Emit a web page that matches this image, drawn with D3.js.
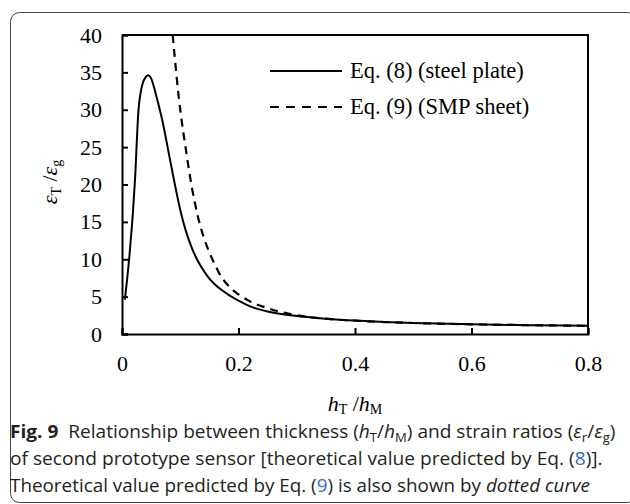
<!DOCTYPE html>
<html>
<head>
<meta charset="utf-8">
<script src="https://cdn.jsdelivr.net/npm/d3@7"></script>
<style>
    html, body { margin: 0; padding: 0; background: #fff; }
    svg { display: block; }
</style>
</head>
<body>
<div id="chart"></div>
<script>
'use strict';

// Eq. (8) - steel plate (solid curve)
var steelX = [0.005, 0.0223, 0.028, 0.034, 0.04, 0.045, 0.05, 0.055, 0.06, 0.07, 0.08, 0.09, 0.1, 0.11, 0.12,
    0.13, 0.14, 0.15, 0.16, 0.17, 0.18, 0.19, 0.2, 0.22, 0.25, 0.3, 0.35, 0.4, 0.45, 0.5, 0.6, 0.7, 0.8];
var steelY = [4.6, 20.6, 29.6, 33.1, 34.3, 34.6, 34.2, 33.0, 31.5, 28.3, 24.3, 20.3, 16.6, 13.7, 11.5,
    9.8, 8.5, 7.4, 6.6, 5.95, 5.4, 4.9, 4.45, 3.7, 3.0, 2.4, 2.05, 1.8, 1.62, 1.48, 1.3, 1.18, 1.1];

// Eq. (9) - SMP sheet (dashed curve)
var smpX = [0.087, 0.09, 0.0967, 0.1, 0.11, 0.1167, 0.12, 0.13, 0.14, 0.15, 0.16, 0.17, 0.18, 0.19, 0.2,
    0.22, 0.25, 0.3, 0.35, 0.4, 0.45, 0.5, 0.6, 0.7, 0.8];
var smpY = [40, 37.5, 32.2, 30, 24.5, 21.1, 19.6, 15.8, 13.0, 10.9, 9.2, 7.7, 6.7, 5.9, 5.3,
    4.36, 3.45, 2.5, 2.05, 1.78, 1.6, 1.47, 1.3, 1.18, 1.1];

var xTicks = [0, 0.2, 0.4, 0.6, 0.8];
var yTicks = [0, 5, 10, 15, 20, 25, 30, 35, 40];
var legendLabels = ['Eq. (8) (steel plate)', 'Eq. (9) (SMP sheet)'];

var width = 630,
    height = 504,
    margin = {top: 35, right: 42, bottom: 170, left: 122},
    serif = '"Liberation Serif", "Times New Roman", serif',
    sans = '"Open Sans", "Noto Sans", sans-serif',
    ink = '#231f20',
    blue = '#2f6ec0';

var svg = d3.select('#chart').append('svg')
    .attr('width', width)
    .attr('height', height);

// Rounded figure frame (right side runs off the page).
svg.append('rect')
    .attr('x', 10.5).attr('y', 12.5)
    .attr('width', 626).attr('height', 490)
    .attr('rx', 9)
    .attr('fill', 'none')
    .attr('stroke', '#444')
    .attr('stroke-width', 1);

var x = d3.scaleLinear()
    .domain([0, 0.8])
    .range([margin.left, width - margin.right]);

var y = d3.scaleLinear()
    .domain([0, 40])
    .range([height - margin.bottom, margin.top]);

var g = svg.append('g');

// Axes with inward ticks.
var xAxis = g.append('g')
    .attr('transform', 'translate(0,' + y(0) + ')')
    .call(d3.axisBottom(x).tickValues(xTicks).tickSize(-6).tickPadding(21).tickFormat(function (d) {
        return d === 0 ? '0' : d3.format('.1f')(d);
    }));

var yAxis = g.append('g')
    .attr('transform', 'translate(' + x(0) + ',0)')
    .call(d3.axisLeft(y).tickValues(yTicks).tickSize(-6).tickPadding(20));

[xAxis, yAxis].forEach(function (a) {
    a.select('.domain').attr('stroke', '#000').attr('stroke-width', 2);
    a.selectAll('.tick line').attr('stroke', '#000').attr('stroke-width', 2);
    a.selectAll('.tick text')
        .attr('fill', '#000')
        .style('font-family', serif)
        .style('font-size', '22px');
});

// Top and right border of the plot box.
g.append('path')
    .attr('d', 'M' + x(0) + ',' + y(40) + 'H' + x(0.8) + 'V' + y(0))
    .attr('fill', 'none')
    .attr('stroke', '#000')
    .attr('stroke-width', 2);

var line = d3.line()
    .x(function (d) { return x(d[0]); })
    .y(function (d) { return y(d[1]); })
    .curve(d3.curveMonotoneX);

g.append('path')
    .datum(d3.zip(steelX, steelY))
    .attr('d', line)
    .attr('fill', 'none')
    .attr('stroke', '#000')
    .attr('stroke-width', 2);

g.append('path')
    .datum(d3.zip(smpX, smpY))
    .attr('d', line)
    .attr('fill', 'none')
    .attr('stroke', '#000')
    .attr('stroke-width', 2.2)
    .attr('stroke-dasharray', '8,6');

// Legend.
var legend = g.append('g').attr('transform', 'translate(270,71)');

legendLabels.forEach(function (label, i) {
    var row = legend.append('g').attr('transform', 'translate(0,' + (i * 36) + ')');

    row.append('line')
        .attr('x1', 0).attr('x2', 72)
        .attr('stroke', '#000')
        .attr('stroke-width', 2)
        .attr('stroke-dasharray', i === 1 ? '9,7' : null);

    row.append('text')
        .attr('x', 80).attr('y', 7)
        .style('font-family', serif)
        .style('font-size', '22.5px')
        .text(label);
});

// Axis titles.
var xTitle = svg.append('text')
    .attr('x', 355).attr('y', 411)
    .attr('text-anchor', 'middle')
    .style('font-family', serif)
    .style('font-size', '22px');
xTitle.append('tspan').style('font-style', 'italic').text('h');
xTitle.append('tspan').attr('dy', 3).style('font-size', '14px').text('T');
xTitle.append('tspan').attr('dy', -3).text(' /');
xTitle.append('tspan').style('font-style', 'italic').text('h');
xTitle.append('tspan').attr('dy', 3).style('font-size', '14px').text('M');

var yTitle = svg.append('text')
    .attr('transform', 'translate(57,182) rotate(-90)')
    .attr('text-anchor', 'middle')
    .style('font-family', serif)
    .style('font-size', '22px');
yTitle.append('tspan').style('font-style', 'italic').text('ε');
yTitle.append('tspan').attr('dy', 4).style('font-size', '14px').text('T');
yTitle.append('tspan').attr('dy', -4).text(' /');
yTitle.append('tspan').style('font-style', 'italic').text('ε');
yTitle.append('tspan').attr('dy', 4).style('font-size', '14px').text('g');

// Caption, each line squeezed to the width of the original.
var captionLines = [
    {y: 438, right: 616, parts: [
        {t: 'Fig. 9', w: 'bold'}, {t: '  Relationship between thickness ('}, {t: 'h', i: 1}, {t: 'T', sub: 1},
        {t: '/'}, {t: 'h', i: 1}, {t: 'M', sub: 1}, {t: ') and strain ratios ('}, {t: 'ε', i: 1}, {t: 'r', sub: 1},
        {t: '/'}, {t: 'ε', i: 1}, {t: 'g', sub: 1}, {t: ')'}
    ]},
    {y: 465, right: 603, parts: [
        {t: 'of second prototype sensor [theoretical value predicted by Eq. ('}, {t: '8', c: blue}, {t: ')].'}
    ]},
    {y: 492, right: 590, parts: [
        {t: 'Theoretical value predicted by Eq. ('}, {t: '9', c: blue}, {t: ') is also shown by '},
        {t: 'dotted curve', i: 1}
    ]}
];

captionLines.forEach(function (ln) {
    var holder = svg.append('g');
    var text = holder.append('text')
        .attr('x', 0).attr('y', 0)
        .attr('fill', ink)
        .style('font-family', sans)
        .style('font-size', '17.5px')
        .attr('xml:space', 'preserve');
    var shift = 0;

    ln.parts.forEach(function (p) {
        var dy = 0;
        if (p.sub && shift === 0) { dy = 4; shift = 4; }
        if (!p.sub && shift !== 0) { dy = -shift; shift = 0; }

        var ts = text.append('tspan').text(p.t);
        if (dy) { ts.attr('dy', dy); }
        if (p.sub) { ts.style('font-size', '12px'); }
        if (p.w) { ts.style('font-weight', p.w); }
        if (p.i) { ts.style('font-style', 'italic'); }
        if (p.c) { ts.attr('fill', p.c); }
    });

    var w = text.node().getComputedTextLength();
    var sx = (ln.right - 10) / w;
    holder.attr('transform', 'translate(10,' + ln.y + ') scale(' + sx + ',1)');
});
</script>
</body>
</html>
